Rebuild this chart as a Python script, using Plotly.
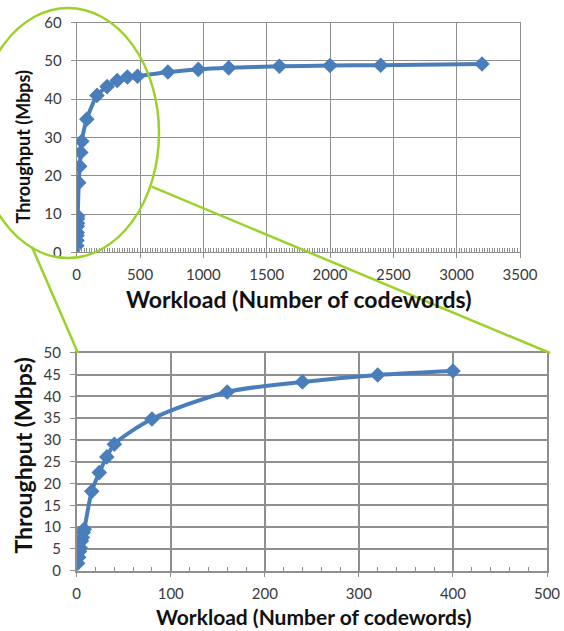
import plotly.graph_objects as go

# ---- data ----
workload = [1, 2, 3, 4, 5, 6, 7, 8, 16, 24, 32, 40, 80, 160, 240, 320, 400,
            480, 720, 960, 1200, 1600, 2000, 2400, 3200]
throughput = [1.7, 3.1, 4.4, 5.2, 6.8, 7.6, 8.8, 9.5, 18.2, 22.5, 26.1, 29.0,
              34.8, 41.0, 43.3, 44.9, 45.8, 46.0, 47.1, 47.8, 48.2, 48.6,
              48.8, 48.9, 49.2]
zoom_max = 400
zoom_workload = [w for w in workload if w <= zoom_max]
zoom_throughput = [t for w, t in zip(workload, throughput) if w <= zoom_max]

x_title = "Workload (Number of codewords)"
y_title = "Throughput (Mbps)"

W, H = 564, 631
def px(x):
    return x / W
def py(y):
    return 1 - y / H

BLUE = "#4A7EBB"
GREEN = "#9DD12A"
GRID = "#8f8f8f"
FONT = "Lato"

fig = go.Figure()
fig.add_trace(go.Scatter(x=workload, y=throughput, mode="lines+markers",
                         line=dict(color=BLUE, width=4, shape="spline", smoothing=0.6),
                         marker=dict(symbol="diamond", size=12, color=BLUE),
                         xaxis="x", yaxis="y", showlegend=False))
fig.add_trace(go.Scatter(x=zoom_workload, y=zoom_throughput, mode="lines+markers",
                         line=dict(color=BLUE, width=4, shape="spline", smoothing=0.8),
                         marker=dict(symbol="diamond", size=12, color=BLUE),
                         xaxis="x2", yaxis="y2", showlegend=False))

tickfont = dict(family=FONT, size=15, color="#3a3a3a")

def xax(domain, rng, dtick, anchor, grid_w):
    return dict(domain=domain, range=rng, dtick=dtick, anchor=anchor, automargin=False,
                showgrid=True, gridcolor=GRID, gridwidth=grid_w,
                showline=True, linecolor=GRID, linewidth=grid_w, mirror=True,
                zeroline=False, ticks="outside", ticklen=5, tickcolor=GRID,
                ticklabelstandoff=4, tickfont=tickfont,
                minor=dict(dtick=20, ticks="inside", ticklen=4, tickcolor=GRID,
                           showgrid=False))

def yax(domain, rng, dtick, anchor, grid_w):
    return dict(domain=domain, range=rng, dtick=dtick, anchor=anchor, automargin=False,
                showgrid=True, gridcolor=GRID, gridwidth=grid_w,
                showline=True, linecolor=GRID, linewidth=grid_w, mirror=True,
                zeroline=False, ticks="outside", ticklen=5, tickcolor=GRID,
                ticklabelstandoff=6, tickfont=tickfont)

fig.update_layout(
    width=W, height=H, margin=dict(l=0, r=0, t=0, b=0, autoexpand=False),
    paper_bgcolor="white", plot_bgcolor="white",
    xaxis=xax([px(76.7), px(520)], [0, 3500], 500, "y", 1),
    yaxis=yax([py(252.3), py(22.7)], [0, 60], 10, "x", 1),
    xaxis2=xax([px(76.7), px(547)], [0, 500], 100, "y2", 1.5),
    yaxis2=yax([py(570.7), py(352.7)], [0, 50], 5, "x2", 1.5),
)

fig.add_annotation(text="<b>%s</b>" % x_title, x=px(298), y=py(299), xref="paper", yref="paper",
                   showarrow=False, font=dict(family=FONT, size=23, color="#111111"),
                   xanchor="center", yanchor="middle")
fig.add_annotation(text="<b>%s</b>" % y_title, x=px(22.5), y=py(147), xref="paper", yref="paper",
                   showarrow=False, font=dict(family=FONT, size=18, color="#111111"),
                   textangle=-90, xanchor="center", yanchor="middle")
fig.add_annotation(text="<b>%s</b>" % x_title, x=px(313), y=py(616), xref="paper", yref="paper",
                   showarrow=False, font=dict(family=FONT, size=21, color="#111111"),
                   xanchor="center", yanchor="middle")
fig.add_annotation(text="<b>%s</b>" % y_title, x=px(22.5), y=py(456), xref="paper", yref="paper",
                   showarrow=False, font=dict(family=FONT, size=23, color="#111111"),
                   textangle=-90, xanchor="center", yanchor="middle")

# zoom highlight: ellipse and connector lines
fig.add_shape(type="circle", xref="paper", yref="paper",
              x0=px(-23), x1=px(159), y0=py(258), y1=py(8),
              line=dict(color=GREEN, width=2.5))
fig.add_shape(type="line", xref="paper", yref="paper",
              x0=px(32), y0=py(247), x1=px(78), y1=py(353),
              line=dict(color=GREEN, width=2.5))
fig.add_shape(type="line", xref="paper", yref="paper",
              x0=px(151.7), y0=py(186.7), x1=px(550), y1=py(353),
              line=dict(color=GREEN, width=2.5))

# remove the default page margin so the 564x631 figure fills the window exactly
fig.write_html("out.html", config={"displayModeBar": False},
               post_script="document.body.style.margin='0';")
